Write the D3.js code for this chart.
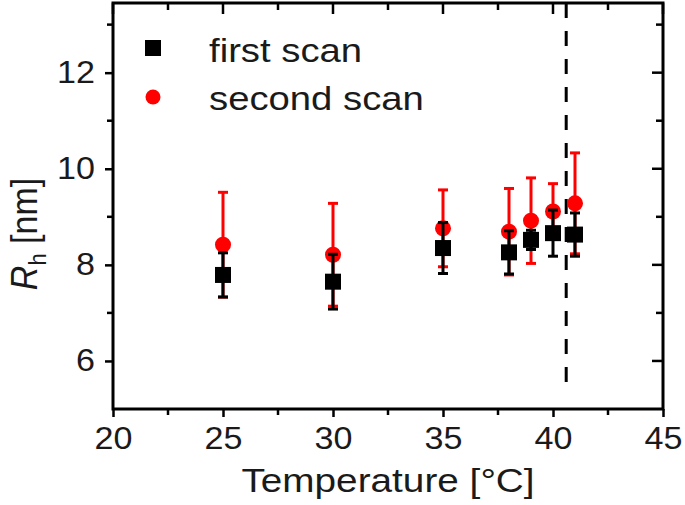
<!DOCTYPE html>
<html>
<head>
<meta charset="utf-8">
<script src="https://cdn.jsdelivr.net/npm/d3@7"></script>
<style>
  body { margin: 0; background: #fff; }
  text { font-family: "Liberation Sans", Arial, sans-serif; fill: #1a1a1a; }
</style>
</head>
<body>
<svg width="685" height="505"></svg>
<script>
// data
var temps = [25, 30, 35, 38, 39, 40, 41]
var firstScan = [7.79, 7.65, 8.35, 8.26, 8.52, 8.66, 8.63]
var firstErr = [0.46, 0.57, 0.53, 0.45, 0.2, 0.48, 0.45]
var secondScan = [8.42, 8.21, 8.76, 8.69, 8.92, 9.11, 9.28]
var secondErr = [1.09, 1.07, 0.8, 0.9, 0.89, 0.58, 1.05]
var xTicks = [20, 25, 30, 35, 40, 45]
var xMinor = [22.5, 27.5, 32.5, 37.5, 42.5]
var yTicks = [6, 8, 10, 12]
var yMinor = [7, 9, 11, 13]
var transitionT = 40.6
var legendNames = ['first scan', 'second scan']

var svg = d3.select('svg')
var x = d3.scaleLinear().domain([20, 45]).range([113, 663])
var y = d3.scaleLinear().domain([5, 13.45]).range([409, 3])
var sx = 1.1 // glyphs in the picture are a bit wide

// bottom axis, ticks outward
var gx = svg.append('g')
  .attr('transform', 'translate(0,' + y(5) + ')')
  .call(d3.axisBottom(x).tickValues(xTicks).tickSize(8).tickSizeOuter(0).tickPadding(10))
gx.select('.domain').remove()
gx.selectAll('.tick line').attr('stroke', '#000').attr('stroke-width', 2.5)
gx.selectAll('.tick text')
  .attr('font-size', 31)
  .attr('font-family', '"Liberation Sans", Arial, sans-serif')
  .attr('fill', '#1a1a1a')
  .attr('transform', 'scale(' + sx + ',1)')

// left axis, ticks outward
var gy = svg.append('g')
  .attr('transform', 'translate(' + x(20) + ',0)')
  .call(d3.axisLeft(y).tickValues(yTicks).tickSize(8).tickSizeOuter(0).tickPadding(10))
gy.select('.domain').remove()
gy.selectAll('.tick line').attr('stroke', '#000').attr('stroke-width', 2.5)
gy.selectAll('.tick text')
  .attr('font-size', 31)
  .attr('font-family', '"Liberation Sans", Arial, sans-serif')
  .attr('fill', '#1a1a1a')
  .attr('x', -18 / sx)
  .attr('transform', 'scale(' + sx + ',1)')

// minor ticks outside + inside ticks on top and right
var tk = svg.append('g').attr('stroke', '#000').attr('stroke-width', 2.5)
tk.selectAll('.mxb').data(xMinor).enter().append('line')
  .attr('x1', d => x(d)).attr('x2', d => x(d))
  .attr('y1', y(5)).attr('y2', y(5) + 6)
tk.selectAll('.myl').data(yMinor).enter().append('line')
  .attr('x1', x(20) - 6).attr('x2', x(20))
  .attr('y1', d => y(d)).attr('y2', d => y(d))
tk.selectAll('.xt').data(xTicks.concat(xMinor)).enter().append('line')
  .attr('x1', d => x(d)).attr('x2', d => x(d))
  .attr('y1', y(13.45)).attr('y2', d => y(13.45) + (xTicks.includes(d) ? 11 : 7))
tk.selectAll('.yr').data(yTicks.concat(yMinor)).enter().append('line')
  .attr('x1', d => x(45) - (yTicks.includes(d) ? 11 : 7)).attr('x2', x(45))
  .attr('y1', d => y(d)).attr('y2', d => y(d))

// frame
svg.append('rect')
  .attr('x', x(20)).attr('y', y(13.45))
  .attr('width', x(45) - x(20)).attr('height', y(5) - y(13.45))
  .attr('fill', 'none').attr('stroke', '#000').attr('stroke-width', 3)

// dashed transition line
svg.append('line')
  .attr('x1', x(transitionT)).attr('x2', x(transitionT))
  .attr('y1', y(13.45)).attr('y2', y(5.3))
  .attr('stroke', '#000').attr('stroke-width', 3)
  .attr('stroke-dasharray', '15,13')

function errorBars (vals, errs, color) {
  var g = svg.append('g').attr('stroke', color).attr('stroke-width', 3)
  temps.forEach(function (t, i) {
    var cx = x(t)
    var top = y(vals[i] + errs[i])
    var bot = y(vals[i] - errs[i])
    g.append('line').attr('x1', cx).attr('x2', cx).attr('y1', top).attr('y2', bot)
    g.append('line').attr('x1', cx - 5).attr('x2', cx + 5).attr('y1', top).attr('y2', top)
    g.append('line').attr('x1', cx - 5).attr('x2', cx + 5).attr('y1', bot).attr('y2', bot)
  })
}

// second scan (red) underneath
errorBars(secondScan, secondErr, '#ff0000')
svg.append('g').selectAll('circle')
  .data(temps).enter().append('circle')
  .attr('cx', d => x(d))
  .attr('cy', (d, i) => y(secondScan[i]))
  .attr('r', 8)
  .attr('fill', '#ff0000')

// first scan (black) on top
errorBars(firstScan, firstErr, '#000')
svg.append('g').selectAll('rect')
  .data(temps).enter().append('rect')
  .attr('x', d => x(d) - 8)
  .attr('y', (d, i) => y(firstScan[i]) - 8)
  .attr('width', 16).attr('height', 16)
  .attr('fill', '#000')

// legend
svg.append('rect').attr('x', 145).attr('y', 40).attr('width', 16).attr('height', 16).attr('fill', '#000')
svg.append('circle').attr('cx', 153).attr('cy', 97).attr('r', 7.5).attr('fill', '#ff0000')
legendNames.forEach(function (name, i) {
  svg.append('text')
    .attr('transform', 'translate(209,' + (62 + i * 48) + ') scale(1.16,1)')
    .attr('font-size', 33)
    .text(name)
})

// axis titles
svg.append('text')
  .attr('transform', 'translate(' + ((x(20) + x(45)) / 2) + ',492) scale(1.14,1)')
  .attr('text-anchor', 'middle')
  .attr('font-size', 34)
  .text('Temperature [°C]')

var yt = svg.append('text')
  .attr('transform', 'translate(37,234) scale(1.1,1) rotate(-90)')
  .attr('text-anchor', 'middle')
  .attr('font-size', 34)
yt.append('tspan').attr('font-style', 'italic').text('R')
yt.append('tspan').attr('font-size', 22).attr('dy', 8).text('h')
yt.append('tspan').attr('dy', -8).text(' [nm]')
</script>
</body>
</html>
